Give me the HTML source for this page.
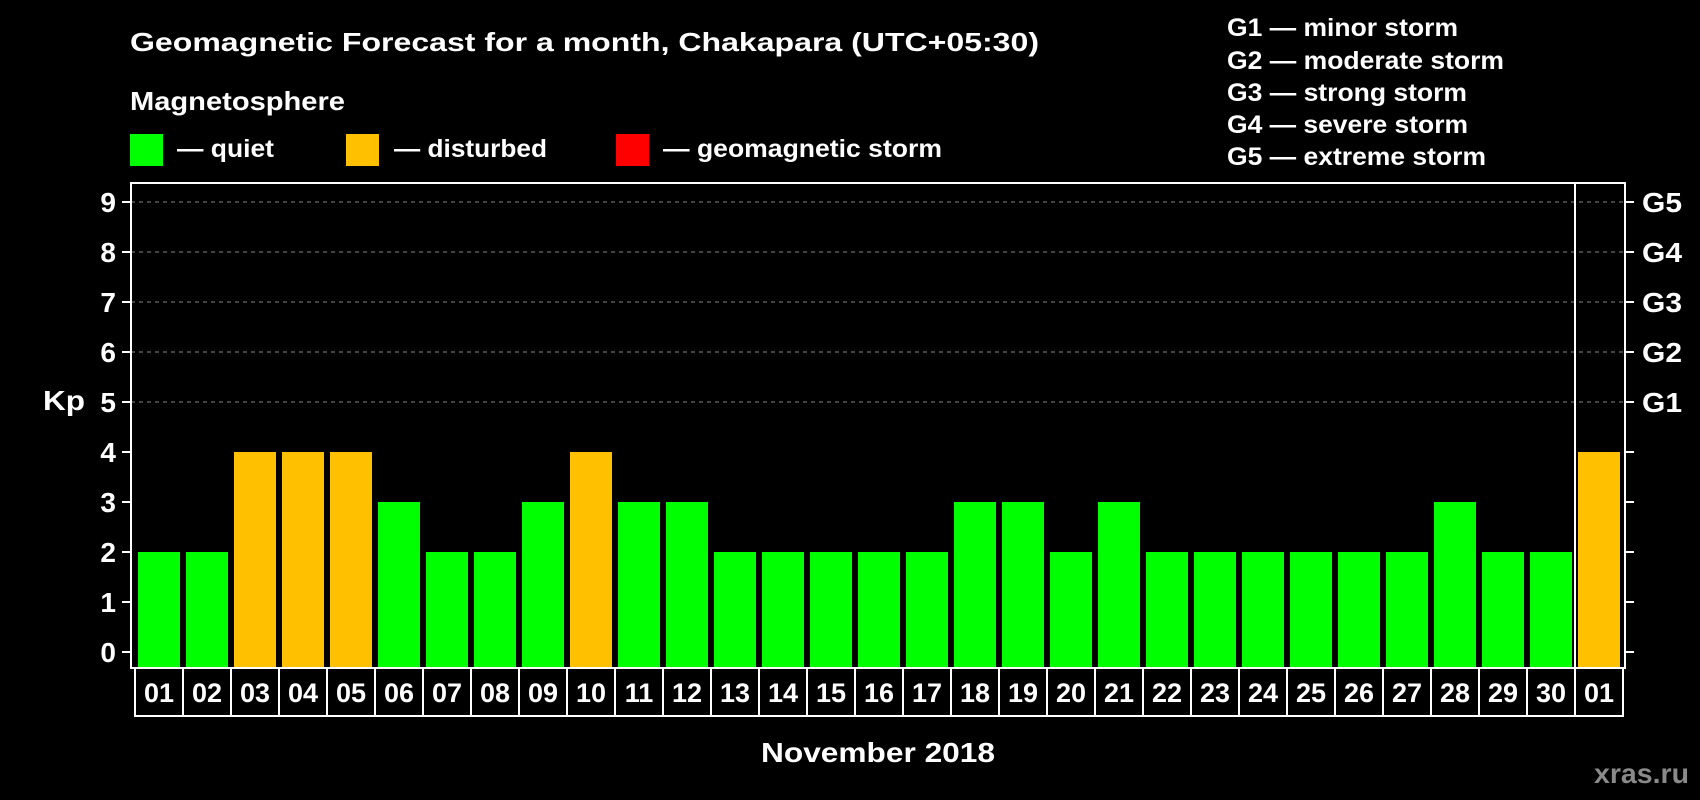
<!DOCTYPE html>
<html><head><meta charset="utf-8"><style>
html,body{margin:0;padding:0;background:#000;}
svg{display:block;font-family:"Liberation Sans",Arial,sans-serif;font-weight:bold;}
</style></head><body>
<svg id="chart" width="1700" height="800" viewBox="0 0 1700 800">
<rect width="1700" height="800" fill="#000"/>
<text x="130" y="51" fill="#fff" font-size="26" textLength="909" lengthAdjust="spacingAndGlyphs">Geomagnetic Forecast for a month, Chakapara (UTC+05:30)</text>
<text x="130" y="110" fill="#fff" font-size="26" textLength="215" lengthAdjust="spacingAndGlyphs">Magnetosphere</text>
<g><rect x="130" y="134" width="33" height="32" fill="#00ff00"/><text x="177" y="157" fill="#fff" font-size="25" textLength="97" lengthAdjust="spacingAndGlyphs">— quiet</text></g>
<g><rect x="346" y="134" width="33" height="32" fill="#ffc000"/><text x="394" y="157" fill="#fff" font-size="25" textLength="153" lengthAdjust="spacingAndGlyphs">— disturbed</text></g>
<g><rect x="616" y="134" width="33" height="32" fill="#ff0000"/><text x="663" y="157" fill="#fff" font-size="25" textLength="279" lengthAdjust="spacingAndGlyphs">— geomagnetic storm</text></g>
<g fill="#fff" font-size="25">
<text x="1227" y="36" textLength="231" lengthAdjust="spacingAndGlyphs">G1 — minor storm</text>
<text x="1227" y="69" textLength="277" lengthAdjust="spacingAndGlyphs">G2 — moderate storm</text>
<text x="1227" y="101" textLength="240" lengthAdjust="spacingAndGlyphs">G3 — strong storm</text>
<text x="1227" y="133" textLength="241" lengthAdjust="spacingAndGlyphs">G4 — severe storm</text>
<text x="1227" y="165" textLength="259" lengthAdjust="spacingAndGlyphs">G5 — extreme storm</text>
</g>
<g id="grid"></g>
<g id="bars"></g>
<g id="axes"></g>
<text x="43" y="410" fill="#fff" font-size="28" textLength="42" lengthAdjust="spacingAndGlyphs">Kp</text>
<text x="761" y="762" fill="#fff" font-size="28" textLength="234" lengthAdjust="spacingAndGlyphs">November 2018</text>
<text x="1594" y="783" fill="#8a8a8a" font-size="28" textLength="95" lengthAdjust="spacingAndGlyphs">xras.ru</text>
</svg>
<script>
const days = ["01","02","03","04","05","06","07","08","09","10","11","12","13","14","15","16","17","18","19","20","21","22","23","24","25","26","27","28","29","30","01"];
const kpValues = [2,2,4,4,4,3,2,2,3,4,3,3,2,2,2,2,2,3,3,2,3,2,2,2,2,2,2,3,2,2,4];
const yTicks = [0,1,2,3,4,5,6,7,8,9];
const gLabels = ["G1","G2","G3","G4","G5"];
const NS="http://www.w3.org/2000/svg";
const L=131,R=1625,T=183,B=668,Y0=652,UNIT=50,SLOT=48,X0=135;
const yS=v=>Y0-v*UNIT;
const xS=i=>X0+i*SLOT;
function mk(tag,attrs,parent){const e=document.createElementNS(NS,tag);for(const k in attrs)e.setAttribute(k,attrs[k]);parent.appendChild(e);return e;}
const grid=document.getElementById('grid'),bars=document.getElementById('bars'),axes=document.getElementById('axes');
yTicks.forEach(v=>{
  if(v>=5){const g=mk('line',{x1:L,x2:R,y1:yS(v),y2:yS(v),stroke:'#888','stroke-width':1,'stroke-dasharray':'4,4'},grid);
  
  }
  const t=mk('line',{x1:122,x2:L,y1:yS(v),y2:yS(v),stroke:'#fff','stroke-width':2},axes);
  
  
  const tr=mk('line',{x1:R,x2:R+9,y1:yS(v),y2:yS(v),stroke:'#fff','stroke-width':2},axes);
  
  
  const lb=mk('text',{x:116,y:yS(v)+10,fill:'#fff','font-size':28,'text-anchor':'end'},axes);
  lb.textContent=v;
  
  
});
gLabels.forEach((g,i)=>{
  const lb=mk('text',{x:1642,y:yS(5+i)+10,fill:'#fff','font-size':28,textLength:40,lengthAdjust:'spacingAndGlyphs'},axes);
  lb.textContent=g;
  
  
});
kpValues.forEach((v,i)=>{
  const col=v>=5?'#ff0000':(v>=4?'#ffc000':'#00ff00');
  const r=mk('rect',{x:xS(i)+3,y:yS(v),width:42,height:B-yS(v),fill:col},bars);
  
  
});
const box=mk('rect',{x:L,y:T,width:R-L,height:B-T,fill:'none',stroke:'#fff','stroke-width':2},axes);


const div=mk('line',{x1:xS(days.length-1),x2:xS(days.length-1),y1:T,y2:B,stroke:'#fff','stroke-width':2},axes);


days.forEach((d,i)=>{
  const c=mk('rect',{x:xS(i),y:B,width:SLOT,height:48,fill:'none',stroke:'#fff','stroke-width':2},axes);
  
  
  const t=mk('text',{x:xS(i)+SLOT/2,y:B+34,fill:'#fff','font-size':27,'text-anchor':'middle'},axes);
  t.textContent=d;
  
  
});
</script>
</body></html>
